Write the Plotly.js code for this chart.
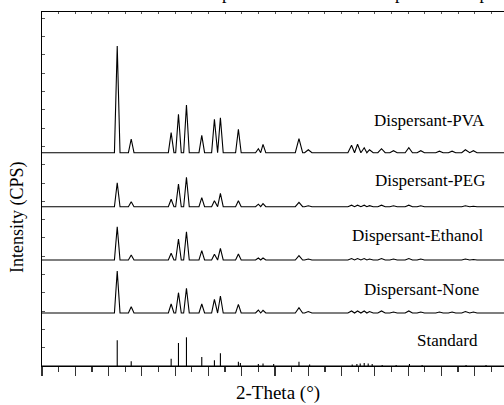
<!DOCTYPE html>
<html>
<head>
<meta charset="utf-8">
<script src="https://cdn.plot.ly/plotly-3.0.1.min.js"></script>
<style>
html,body{margin:0;padding:0;overflow:hidden;background:#fff;}
#chart{width:520px;height:405px;}
</style>
</head>
<body>
<div id="chart"></div>
<script>
// ---- data ----
const seriesNames = ['Dispersant-PVA', 'Dispersant-PEG', 'Dispersant-Ethanol', 'Dispersant-None', 'Standard'];
// peak positions (2-Theta, degrees) shared by the measured patterns
const peakTwoTheta = [21.3, 23.4, 29.4, 30.5, 31.7, 34.0, 35.9, 36.8, 39.5, 42.5, 43.2, 48.6, 50.0,
                      56.5, 57.4, 58.4, 59.2, 61.0, 62.8, 65.1, 66.9, 69.7, 71.6, 73.6, 74.8];
// peak intensities (a.u.) for each measured pattern
const pvaIntensity     = [106.7, 13.7, 20.0, 38.4, 47.7, 17.4, 33.4, 35.0, 23.4, 4.0, 8.4, 14.0, 3.0,
                          7.4, 8.4, 5.0, 3.0, 4.0, 2.0, 5.0, 2.0, 1.5, 1.5, 3.0, 2.0];
const pegIntensity     = [24.0, 5.0, 7.4, 22.7, 29.4, 9.0, 6.0, 13.4, 6.0, 2.5, 3.0, 4.3, 1.0,
                          1.5, 1.5, 1.5, 1.0, 1.5, 1.0, 1.5, 1.0, 0.5, 0.5, 1.0, 0.5];
const ethanolIntensity = [33.3, 5.0, 6.7, 21.0, 28.3, 9.3, 5.7, 11.7, 6.0, 2.0, 2.0, 4.3, 1.0,
                          1.5, 1.5, 1.5, 1.0, 1.5, 1.0, 1.5, 1.0, 0.5, 0.5, 1.0, 0.5];
const noneIntensity    = [42.0, 6.3, 9.0, 20.3, 24.7, 9.0, 13.7, 17.0, 8.7, 3.0, 2.7, 5.3, 1.5,
                          2.0, 2.0, 2.0, 1.5, 2.0, 1.0, 2.0, 1.0, 1.0, 1.0, 1.5, 1.0];
// standard reference lines
const stdTwoTheta   = [21.3, 23.4, 29.4, 30.5, 31.7, 34.0, 35.9, 36.8, 39.5, 39.8, 42.5, 43.2, 44.8,
                       48.6, 50.2, 56.6, 57.3, 57.8, 58.4, 59.0, 59.6, 61.1, 63.2, 65.2, 67.1, 73.7, 76.7];
const stdIntensity  = [25.7, 4.7, 7.3, 23.0, 28.7, 9.0, 5.7, 12.7, 4.3, 3.0, 2.0, 2.5, 2.0,
                       4.3, 1.5, 1.5, 2.0, 2.5, 3.0, 2.5, 2.0, 1.0, 1.0, 2.0, 1.0, 1.0, 1.0];
// vertical offsets of the stacked patterns
const stackOffset = [213.3, 159.3, 106.0, 53.0, 0];

// ---- build traces ----
const X0 = 10, X1 = 80;
function pattern(pos, inten, off) {
  const xs = [X0], ys = [off];
  for (let i = 0; i < pos.length; i++) {
    const p = pos[i];
    const w = p < 45 ? 0.42 : 0.55;
    let l = p - w, r = p + w;
    if (i > 0) l = Math.max(l, (pos[i-1] + p) / 2);
    if (i < pos.length - 1) r = Math.min(r, (p + pos[i+1]) / 2);
    xs.push(l, p, r);
    ys.push(off, off + inten[i], off);
  }
  xs.push(X1); ys.push(off);
  return {xs, ys};
}
const measured = [pvaIntensity, pegIntensity, ethanolIntensity, noneIntensity];
const traces = [];
measured.forEach((arr, k) => {
  const d = pattern(peakTwoTheta, arr, stackOffset[k]);
  traces.push({x: d.xs, y: d.ys, type: 'scatter', mode: 'lines', name: seriesNames[k],
    line: {color: '#000', width: 1.1}, hoverinfo: 'skip', showlegend: false});
});
// standard sticks
const sx = [X0, X1, null], sy = [stackOffset[4], stackOffset[4], null];
stdTwoTheta.forEach((t, i) => { sx.push(t, t, null); sy.push(stackOffset[4], stackOffset[4] + stdIntensity[i], null); });
traces.push({x: sx, y: sy, type: 'scatter', mode: 'lines', name: seriesNames[4],
  line: {color: '#000', width: 1.1}, hoverinfo: 'skip', showlegend: false, connectgaps: false});
// carrier for the top mirror axis
traces.push({x: [X0], y: [0], xaxis: 'x2', type: 'scatter', mode: 'markers', marker: {opacity: 0},
  hoverinfo: 'skip', showlegend: false});

const FONT = 'Liberation Serif, Times New Roman, serif';
const labelX = [76.9, 76.8, 76.7, 76.0, 75.8];
const labelY = [245.3, 185.3, 131.0, 77.0, 25.3];
const annotations = seriesNames.map((n, k) => ({
  text: n, x: labelX[k], y: labelY[k], xref: 'x', yref: 'y', xanchor: 'right', yanchor: 'middle',
  showarrow: false, font: {family: FONT, size: 17, color: '#000'}
}));
annotations.push({text: 'Intensity (CPS)', textangle: -90, xref: 'paper', yref: 'paper',
  x: (18 - 42) / 466, y: (366 - 217) / 354, xanchor: 'center', yanchor: 'middle', showarrow: false,
  font: {family: FONT, size: 18, color: '#000'}});
annotations.push({text: '2-Theta (°)', xref: 'paper', yref: 'paper',
  x: (278 - 42) / 466, y: (366 - 393) / 354, xanchor: 'center', yanchor: 'middle', showarrow: false,
  font: {family: FONT, size: 19, color: '#000'}});
annotations.push({text: 'The chart shows the effect of the dispersant on the rotation speed of the powder', xref: 'paper', yref: 'paper',
  x: (247 - 42) / 466, y: 1 + (12 - 5) / 354, xanchor: 'center', yanchor: 'bottom', showarrow: false,
  font: {family: FONT, size: 18, color: '#000'}});

const layout = {
  width: 520, height: 405,
  margin: {l: 42, r: 12, t: 12, b: 39, pad: 0},
  paper_bgcolor: '#fff', plot_bgcolor: '#fff',
  showlegend: false,
  xaxis: {range: [X0, X1], showgrid: false, zeroline: false, showticklabels: false,
    showline: true, linecolor: '#000', linewidth: 1.3, mirror: true,
    ticks: 'outside', tick0: 10, dtick: 5, ticklen: 9, tickwidth: 1.2, tickcolor: '#333',
    minor: {ticks: 'outside', dtick: 2.5, ticklen: 5, tickwidth: 1.2, tickcolor: '#333', showgrid: false}},
  xaxis2: {range: [X0, X1], overlaying: 'x', side: 'top', anchor: 'y', showgrid: false, zeroline: false,
    showticklabels: false, showline: false, ticks: 'inside', tick0: 10, dtick: 2.5, ticklen: 2,
    tickwidth: 1, tickcolor: '#555'},
  yaxis: {range: [0, 354], showgrid: false, zeroline: false, showticklabels: false,
    showline: true, linecolor: '#000', linewidth: 1.3, mirror: true,
    ticks: 'inside', tick0: 0, dtick: 18.3, ticklen: 3, tickwidth: 1, tickcolor: '#555'},
  annotations: annotations
};
Plotly.newPlot('chart', traces, layout, {staticPlot: true, displayModeBar: false});
</script>
</body>
</html>
